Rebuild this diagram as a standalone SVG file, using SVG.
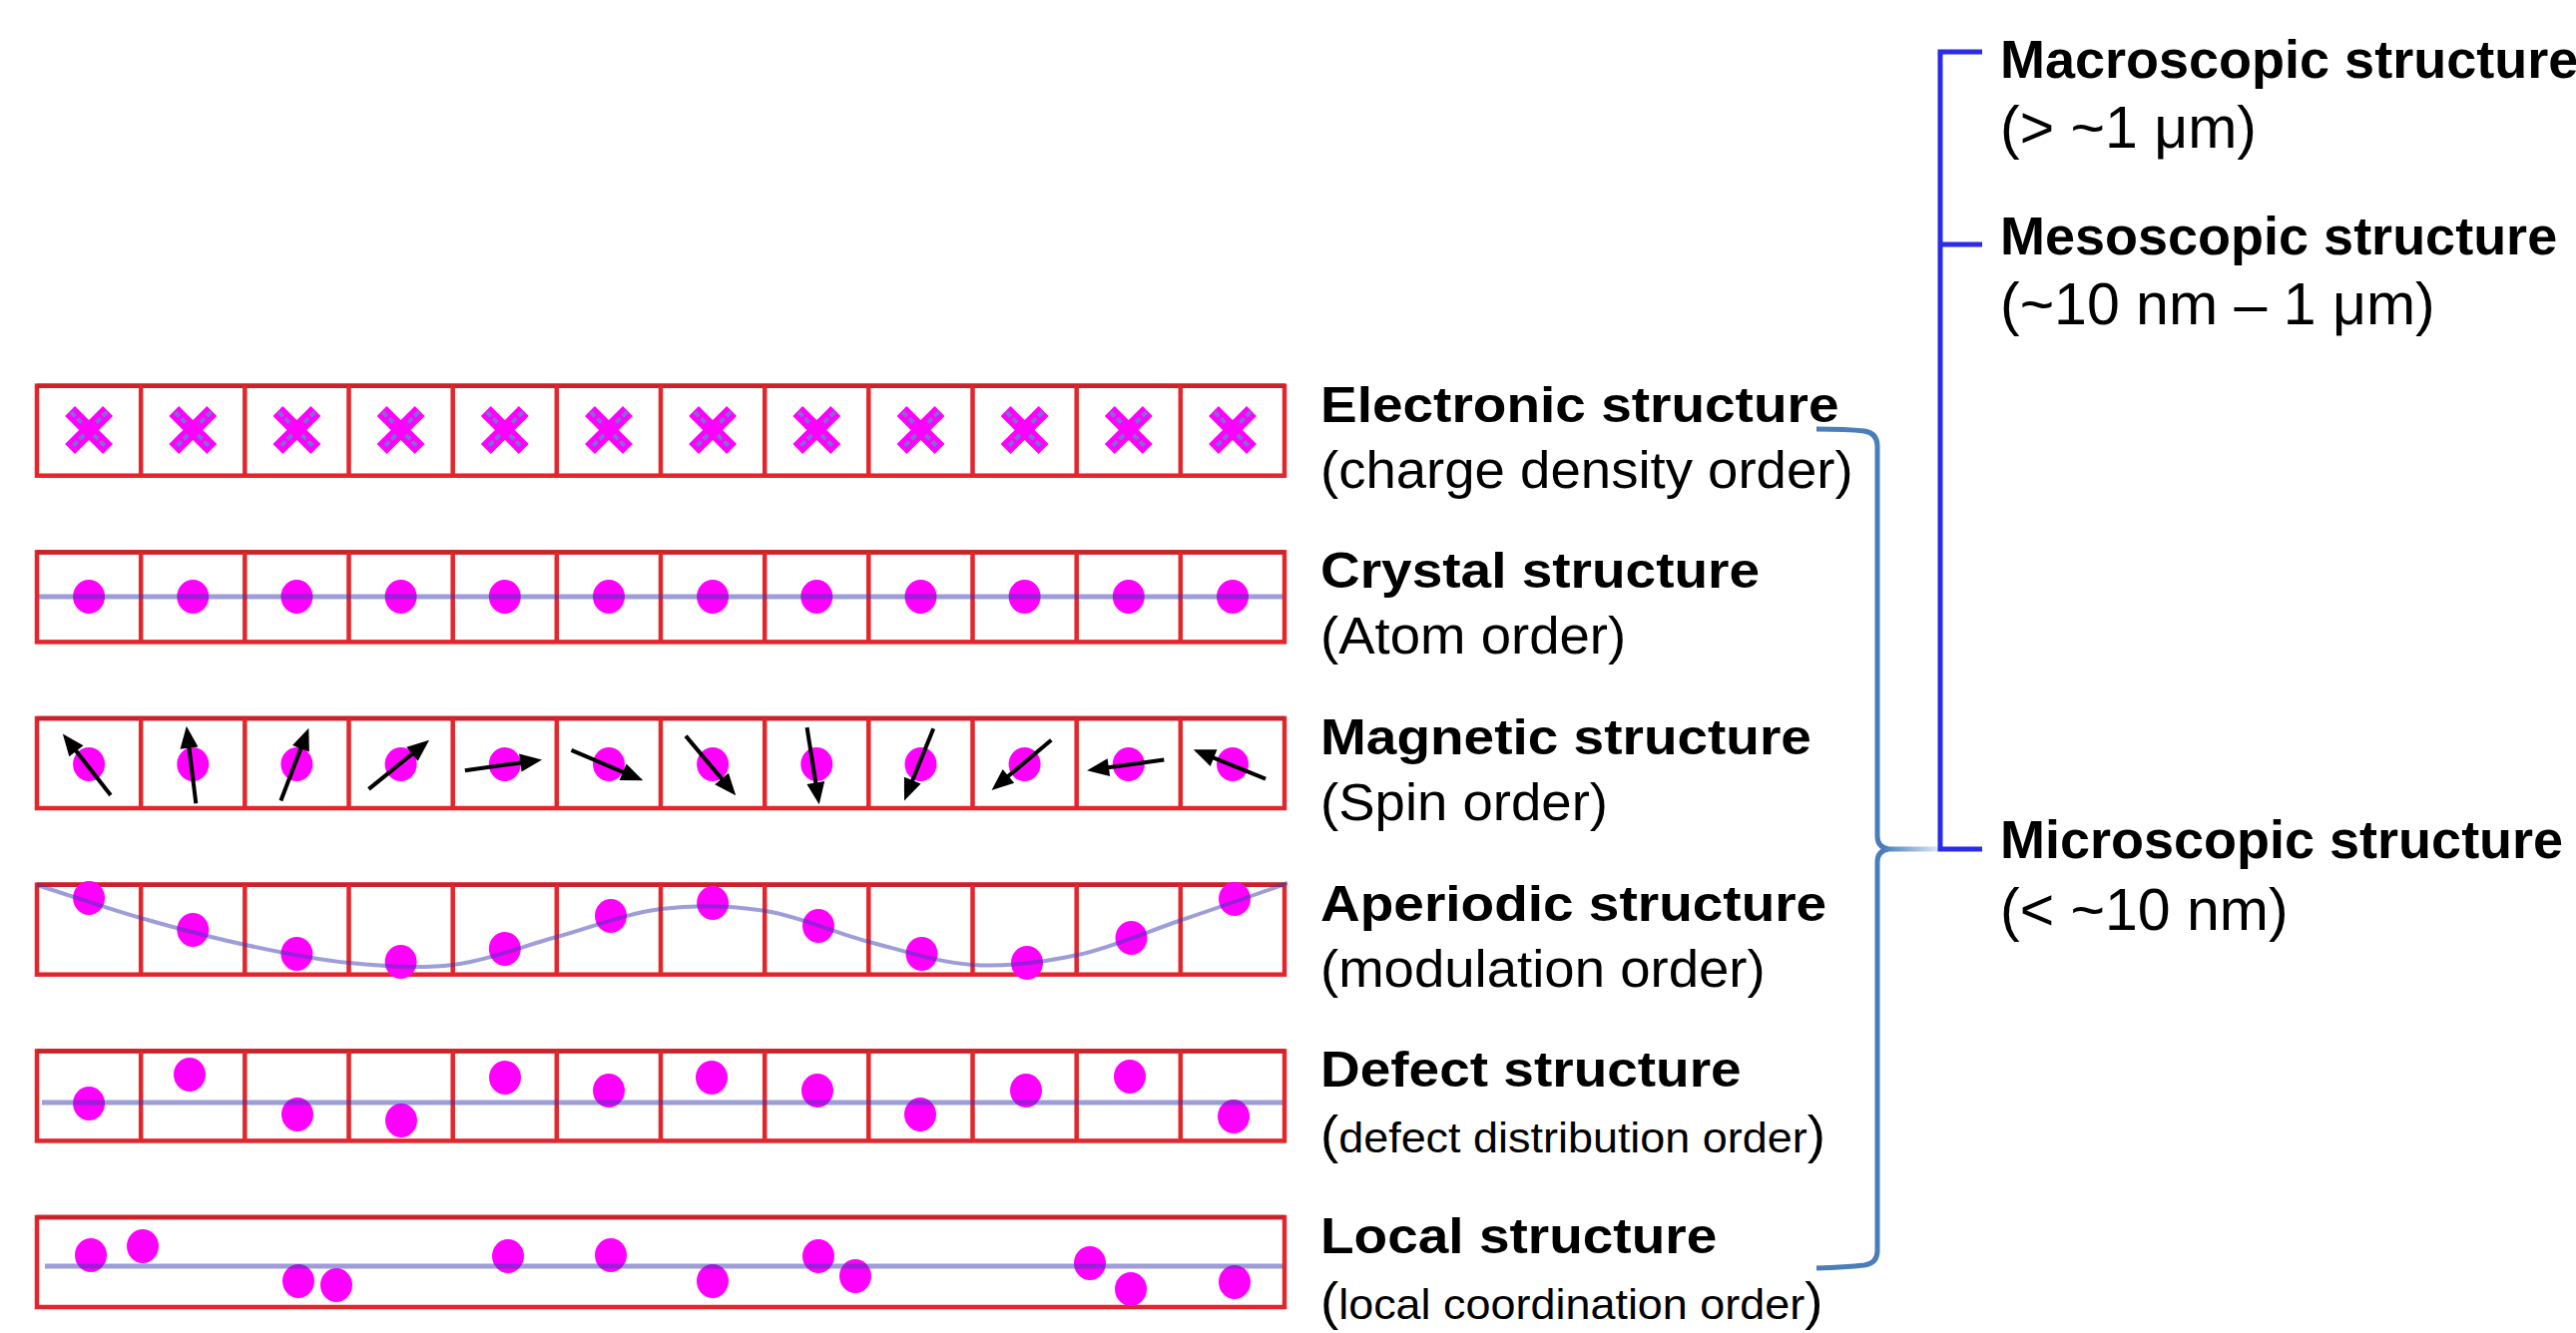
<svg xmlns="http://www.w3.org/2000/svg" width="2581" height="1336" viewBox="0 0 2581 1336">
<style>
.frame{fill:none;stroke:#e3262b;stroke-width:4.5}
.edge{stroke:#c8232a;stroke-width:4.5}
.dot{fill:#ff00ff}
.axis{fill:none;stroke:#3c3cb4;stroke-opacity:0.5;stroke-width:5}
.wave{fill:none;stroke:#3c3cb4;stroke-opacity:0.5;stroke-width:4}
.spin line{stroke:#000;stroke-width:4}
.spin polygon{fill:#000}
.title{font-family:"Liberation Sans",Arial,sans-serif;font-weight:bold;font-size:50px;fill:#000}
.sub{font-family:"Liberation Sans",Arial,sans-serif;font-size:51px;fill:#000}
.small{font-size:42px}
.rtitle{font-size:54px}
.rsub{font-size:59px}
.brace{fill:none;stroke:#4a7ebb;stroke-width:5}
.scale{fill:none;stroke:#2b2bea;stroke-width:5}
</style>
<defs>
  <!-- 12-cell strip, 1250 x 90 -->
  <g id="grid">
    <rect class="frame" x="37" y="0" width="1250" height="90"/>
    <line class="edge" x1="37" y1="0" x2="1287" y2="0"/>
    <path class="frame" d="M141.2,0V90M245.3,0V90M349.5,0V90M453.7,0V90M557.8,0V90M662,0V90M766.2,0V90M870.3,0V90M974.5,0V90M1078.7,0V90M1182.8,0V90"/>
  </g>
  <!-- charge-density cross -->
  <g id="xmark">
    <path d="M-19,-19L19,19M19,-19L-19,19" stroke="#ff00ff" stroke-width="14" fill="none"/>
    <path d="M-18,-18L-5,-5M5,5L18,18M18,-18L5,-5M-5,5L-18,18" stroke="#7b6fcf" stroke-width="4" stroke-dasharray="6 3" fill="none"/>
  </g>
  <!-- spin arrow pointing up, centred on origin -->
  <g id="spin" class="spin">
    <line x1="0" y1="38" x2="0" y2="-22"/>
    <polygon points="0,-40 -9,-18 9,-18"/>
  </g>
  <linearGradient id="fade" gradientUnits="userSpaceOnUse" x1="1888" y1="0" x2="1944" y2="0">
    <stop offset="0" stop-color="#4a7ebb"/>
    <stop offset="1" stop-color="#e3ebf7"/>
  </linearGradient>
</defs>

<rect width="2581" height="1336" fill="#fff"/>

<!-- Electronic structure -->
<g id="row-electronic">
  <use href="#grid" y="386.7"/>
  <use href="#xmark" x="89.1" y="431"/>
  <use href="#xmark" x="193.3" y="431"/>
  <use href="#xmark" x="297.4" y="431"/>
  <use href="#xmark" x="401.6" y="431"/>
  <use href="#xmark" x="505.8" y="431"/>
  <use href="#xmark" x="610" y="431"/>
  <use href="#xmark" x="714.1" y="431"/>
  <use href="#xmark" x="818.3" y="431"/>
  <use href="#xmark" x="922.5" y="431"/>
  <use href="#xmark" x="1026.6" y="431"/>
  <use href="#xmark" x="1130.8" y="431"/>
  <use href="#xmark" x="1235" y="431"/>
  <text class="title" transform="translate(1323 423) scale(1.1 1)">Electronic structure</text>
  <text class="sub" transform="translate(1323 489) scale(1.07 1)">(charge density order)</text>
</g>

<!-- Crystal structure -->
<g id="row-crystal">
  <use href="#grid" y="553.4"/>
  <g class="dot">
    <ellipse cx="89.1" cy="598" rx="16" ry="17"/>
    <ellipse cx="193.3" cy="598" rx="16" ry="17"/>
    <ellipse cx="297.4" cy="598" rx="16" ry="17"/>
    <ellipse cx="401.6" cy="598" rx="16" ry="17"/>
    <ellipse cx="505.8" cy="598" rx="16" ry="17"/>
    <ellipse cx="610" cy="598" rx="16" ry="17"/>
    <ellipse cx="714.1" cy="598" rx="16" ry="17"/>
    <ellipse cx="818.3" cy="598" rx="16" ry="17"/>
    <ellipse cx="922.5" cy="598" rx="16" ry="17"/>
    <ellipse cx="1026.6" cy="598" rx="16" ry="17"/>
    <ellipse cx="1130.8" cy="598" rx="16" ry="17"/>
    <ellipse cx="1235" cy="598" rx="16" ry="17"/>
  </g>
  <line class="axis" x1="39" y1="598" x2="1285" y2="598"/>
  <text class="title" transform="translate(1323 589) scale(1.1 1)">Crystal structure</text>
  <text class="sub" transform="translate(1323 655) scale(1.07 1)">(Atom order)</text>
</g>

<!-- Magnetic structure -->
<g id="row-magnetic">
  <use href="#grid" y="720"/>
  <g class="dot">
    <ellipse cx="89.1" cy="766" rx="16" ry="17"/>
    <ellipse cx="193.3" cy="766" rx="16" ry="17"/>
    <ellipse cx="297.4" cy="766" rx="16" ry="17"/>
    <ellipse cx="401.6" cy="766" rx="16" ry="17"/>
    <ellipse cx="505.8" cy="766" rx="16" ry="17"/>
    <ellipse cx="610" cy="766" rx="16" ry="17"/>
    <ellipse cx="714.1" cy="766" rx="16" ry="17"/>
    <ellipse cx="818.3" cy="766" rx="16" ry="17"/>
    <ellipse cx="922.5" cy="766" rx="16" ry="17"/>
    <ellipse cx="1026.6" cy="766" rx="16" ry="17"/>
    <ellipse cx="1130.8" cy="766" rx="16" ry="17"/>
    <ellipse cx="1235" cy="766" rx="16" ry="17"/>
  </g>
  <use href="#spin" transform="translate(87.5 767) rotate(-38)"/>
  <use href="#spin" transform="translate(191.7 767.5) rotate(-7)"/>
  <use href="#spin" transform="translate(295 767) rotate(21)"/>
  <use href="#spin" transform="translate(399 767) rotate(51)"/>
  <use href="#spin" transform="translate(503.5 767) rotate(82)"/>
  <use href="#spin" transform="translate(607.5 766.7) rotate(113)"/>
  <use href="#spin" transform="translate(711.5 766.7) rotate(140)"/>
  <use href="#spin" transform="translate(814.5 766.7) rotate(171)"/>
  <use href="#spin" transform="translate(921 765.5) rotate(202)"/>
  <use href="#spin" transform="translate(1024.2 766.2) rotate(230)"/>
  <use href="#spin" transform="translate(1128.7 766.7) rotate(262)"/>
  <use href="#spin" transform="translate(1232.8 766.3) rotate(292)"/>
  <text class="title" transform="translate(1323 756) scale(1.1 1)">Magnetic structure</text>
  <text class="sub" transform="translate(1323 822) scale(1.07 1)">(Spin order)</text>
</g>

<!-- Aperiodic structure -->
<g id="row-aperiodic">
  <use href="#grid" y="886.7"/>
  <g class="dot">
    <ellipse cx="89.1" cy="900" rx="16" ry="17"/>
    <ellipse cx="193.3" cy="932" rx="16" ry="17"/>
    <ellipse cx="297.4" cy="956" rx="16" ry="17"/>
    <ellipse cx="401.6" cy="964" rx="16" ry="17"/>
    <ellipse cx="505.8" cy="951" rx="16" ry="17"/>
    <ellipse cx="612" cy="918" rx="16" ry="17"/>
    <ellipse cx="714.1" cy="905" rx="16" ry="17"/>
    <ellipse cx="820" cy="928" rx="16" ry="17"/>
    <ellipse cx="923.5" cy="956" rx="16" ry="17"/>
    <ellipse cx="1029" cy="965" rx="16" ry="17"/>
    <ellipse cx="1133.5" cy="940" rx="16" ry="17"/>
    <ellipse cx="1237" cy="901" rx="16" ry="17"/>
  </g>
  <path class="wave" d="M37,887 C71.7,898 106.2,910 141,920 C175.8,930 211.2,939.5 246,947 C280.8,954.5 315.3,961.7 350,965 C384.7,968.3 419.3,971.3 454,967 C488.7,962.7 523.3,948.3 558,939 C592.7,929.7 627.2,915.3 662,911 C696.8,906.7 732.2,907.5 767,913 C801.8,918.5 836.3,935 871,944 C905.7,953 940.2,964.8 975,967 C1009.8,969.2 1045.2,964.5 1080,957 C1114.8,949.5 1149.5,933.7 1184,922 C1218.5,910.3 1252.5,898.7 1290,885"/>
  <text class="title" transform="translate(1323 923) scale(1.1 1)">Aperiodic structure</text>
  <text class="sub" transform="translate(1323 989) scale(1.07 1)">(modulation order)</text>
</g>

<!-- Defect structure -->
<g id="row-defect">
  <use href="#grid" y="1053.4"/>
  <g class="dot">
    <ellipse cx="89.1" cy="1106" rx="16" ry="17"/>
    <ellipse cx="190" cy="1077" rx="16" ry="17"/>
    <ellipse cx="298" cy="1117" rx="16" ry="17"/>
    <ellipse cx="402" cy="1123" rx="16" ry="17"/>
    <ellipse cx="506" cy="1080" rx="16" ry="17"/>
    <ellipse cx="610" cy="1093" rx="16" ry="17"/>
    <ellipse cx="713" cy="1080" rx="16" ry="17"/>
    <ellipse cx="819" cy="1093" rx="16" ry="17"/>
    <ellipse cx="922" cy="1117" rx="16" ry="17"/>
    <ellipse cx="1028" cy="1093" rx="16" ry="17"/>
    <ellipse cx="1132" cy="1079" rx="16" ry="17"/>
    <ellipse cx="1236" cy="1119" rx="16" ry="17"/>
  </g>
  <line class="axis" x1="42" y1="1105" x2="1285" y2="1105"/>
  <text class="title" transform="translate(1323 1089) scale(1.1 1)">Defect structure</text>
  <text class="sub" transform="translate(1323 1155) scale(1.07 1)">(<tspan class="small">defect distribution order</tspan>)</text>
</g>

<!-- Local structure -->
<g id="row-local">
  <rect class="frame" x="37" y="1220" width="1250" height="90"/>
  <line class="edge" x1="37" y1="1220" x2="1287" y2="1220"/>
  <g class="dot">
    <ellipse cx="91" cy="1258" rx="16" ry="17"/>
    <ellipse cx="143" cy="1249" rx="16" ry="17"/>
    <ellipse cx="299" cy="1284" rx="16" ry="17"/>
    <ellipse cx="337" cy="1288" rx="16" ry="17"/>
    <ellipse cx="509" cy="1259" rx="16" ry="17"/>
    <ellipse cx="612" cy="1258" rx="16" ry="17"/>
    <ellipse cx="714" cy="1284" rx="16" ry="17"/>
    <ellipse cx="820" cy="1259" rx="16" ry="17"/>
    <ellipse cx="857" cy="1279" rx="16" ry="17"/>
    <ellipse cx="1092" cy="1266" rx="16" ry="17"/>
    <ellipse cx="1133" cy="1292" rx="16" ry="17"/>
    <ellipse cx="1237" cy="1285" rx="16" ry="17"/>
  </g>
  <line class="axis" x1="45" y1="1269" x2="1285" y2="1269"/>
  <text class="title" transform="translate(1323 1256) scale(1.1 1)">Local structure</text>
  <text class="sub" transform="translate(1323 1322) scale(1.07 1)">(<tspan class="small">local coordination order</tspan>)</text>
</g>

<!-- Length-scale labels -->
<g id="macroscopic">
  <text class="title rtitle" x="2004" y="78">Macroscopic structure</text>
  <text class="sub rsub" x="2004" y="148">(&gt; ~1 μm)</text>
</g>
<g id="mesoscopic">
  <text class="title rtitle" x="2004" y="255">Mesoscopic structure</text>
  <text class="sub rsub" x="2004" y="325">(~10 nm – 1 μm)</text>
</g>
<g id="microscopic">
  <text class="title rtitle" x="2004" y="860">Microscopic structure</text>
  <text class="sub rsub" x="2004" y="932">(&lt; ~10 nm)</text>
</g>

<!-- Brace grouping the strips and the length-scale bracket -->
<g id="connectors">
  <path class="brace" d="M1820,430 Q1850,430 1868,432 Q1881,434 1881,447 L1881,838 Q1881,849 1892,851 Q1881,853 1881,864 L1881,1254 Q1881,1266 1868,1268 Q1850,1270 1820,1271"/>
  <line x1="1888" y1="851" x2="1944" y2="851" stroke="url(#fade)" stroke-width="5"/>
  <path class="scale" d="M1986,52 H1944 V851 H1986 M1944,245 H1986"/>
</g>
</svg>
